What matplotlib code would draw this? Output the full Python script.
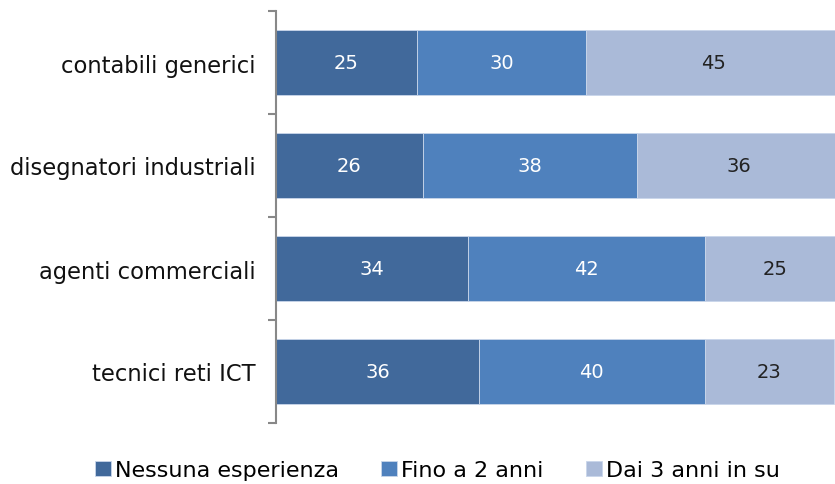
import matplotlib

matplotlib.use("Agg")
import matplotlib.pyplot as plt
import numpy as np

categories = ["contabili generici", "disegnatori industriali", "agenti commerciali", "tecnici reti ICT"]
series_names = ["Nessuna esperienza", "Fino a 2 anni", "Dai 3 anni in su"]
nessuna = [25, 26, 34, 36]
fino_2 = [30, 38, 42, 40]
dai_3 = [45, 36, 25, 23]

colors = ["#41699B", "#4F81BD", "#AABAD8"]
text_colors = ["white", "white", "#222222"]

plt.rcParams["font.family"] = ["DejaVu Sans"]

fig = plt.figure(figsize=(8.35, 4.85), dpi=100)
ax = fig.add_axes([276 / 835, 1 - 424 / 485, (840 - 276) / 835, (424 - 12) / 485])

y = np.arange(len(categories))
left = np.zeros(len(categories))
for name, vals, col, tcol in zip(series_names, [nessuna, fino_2, dai_3], colors, text_colors):
    vals = np.array(vals, dtype=float)
    ax.barh(y, vals, left=left, height=0.63, color=col, edgecolor="#C9D6EA",
            linewidth=0.6, label=name)
    for yi, l, v in zip(y, left, vals):
        ax.text(l + v / 2, yi, f"{v:.0f}", ha="center", va="center", color=tcol, fontsize=14)
    left += vals

ax.set_xlim(0, 100)
ax.set_ylim(len(categories) - 0.5, -0.5)
ax.set_yticks(y)
ax.set_yticklabels(categories, fontsize=16.3, color="#111111")
ax.set_yticks(np.arange(-0.5, len(categories)), minor=True)
ax.tick_params(axis="y", which="major", length=0, pad=15)
ax.tick_params(axis="y", which="minor", length=6, color="#888888", width=1.5)
ax.set_xticks([])
for s in ["top", "right", "bottom"]:
    ax.spines[s].set_visible(False)
ax.spines["left"].set_color("#888888")
ax.spines["left"].set_linewidth(1.5)

fig.legend(loc="center", bbox_to_anchor=(0.524, 0.028), ncol=3, frameon=False, fontsize=16,
           handlelength=0.7, handleheight=0.7, handletextpad=0.2, columnspacing=1.9)

fig.savefig("out.png", dpi=100)
